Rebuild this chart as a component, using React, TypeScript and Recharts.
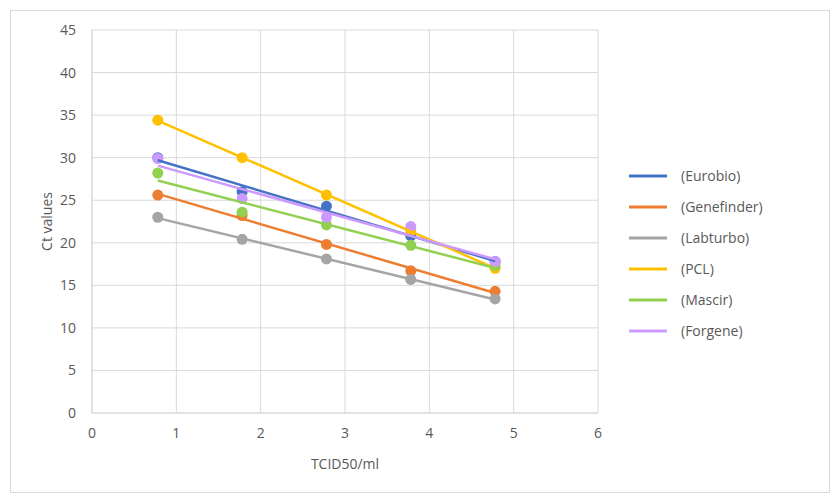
import React from 'react';
import { ScatterChart, Scatter, XAxis, YAxis, CartesianGrid, Label } from 'recharts';

const tcid = [0.78, 1.78, 2.78, 3.78, 4.78];
const eurobio = [30.0, 26.0, 24.3, 20.8, 17.8];
const genefinder = [25.6, 23.2, 19.8, 16.7, 14.3];
const labturbo = [23.0, 20.4, 18.1, 15.7, 13.4];
const pcl = [34.4, 30.0, 25.6, 21.4, 17.0];
const mascir = [28.2, 23.6, 22.1, 19.7, 17.3];
const forgene = [29.9, 25.2, 23.0, 21.9, 17.8];

const seriesNames = ['(Eurobio)', '(Genefinder)', '(Labturbo)', '(PCL)', '(Mascir)', '(Forgene)'];
const seriesValues = [eurobio, genefinder, labturbo, pcl, mascir, forgene];
const seriesColors = ['#4472C4', '#ED7D31', '#A5A5A5', '#FFC000', '#92D050', '#CC99FF'];

const xTicks = [0, 1, 2, 3, 4, 5, 6];
const yTicks = [0, 5, 10, 15, 20, 25, 30, 35, 40, 45];

const toPoints = (ys: number[]) => tcid.map((x, i) => ({ x, y: ys[i] }));

// Linear (least-squares) trendline, as in the source spreadsheet chart
const trendline = (ys: number[]) => {
  const n = tcid.length;
  const mx = tcid.reduce((a, b) => a + b, 0) / n;
  const my = ys.reduce((a, b) => a + b, 0) / n;
  let sxy = 0;
  let sxx = 0;
  tcid.forEach((x, i) => {
    sxy += (x - mx) * (ys[i] - my);
    sxx += (x - mx) * (x - mx);
  });
  const slope = sxy / sxx;
  const x0 = tcid[0];
  const x1 = tcid[n - 1];
  return [
    { x: x0, y: my + slope * (x0 - mx) },
    { x: x1, y: my + slope * (x1 - mx) },
  ];
};

const FONT = '"Open Sans", sans-serif';
const TEXT = '#595959';
const GRID = '#d9d9d9';

export default function App() {
  return (
    <div
      style={{
        position: 'relative',
        width: 840,
        height: 495,
        marginLeft: -8,
        marginTop: -8,
        fontFamily: FONT,
        background: '#fff',
        overflow: 'hidden',
      }}
    >
      <div
        style={{
          position: 'absolute',
          left: 7,
          top: 7,
          width: 840,
          height: 495,
          borderLeft: '1px solid #3f3f3f',
          borderTop: '1px solid #3f3f3f',
        }}
      />
      <div
        style={{
          position: 'absolute',
          left: 10,
          top: 10,
          width: 818,
          height: 481,
          border: '1px solid ' + GRID,
        }}
      />
      <div style={{ position: 'absolute', left: 0, top: 0 }}>
        <ScatterChart width={840} height={495} margin={{ top: 30, right: 242, left: 0, bottom: 0 }}>
          <CartesianGrid stroke={GRID} strokeWidth={1} />
          <XAxis
            type="number"
            dataKey="x"
            domain={[0, 6]}
            ticks={xTicks}
            height={82}
            tickLine={false}
            tickSize={0}
            tickMargin={15}
            axisLine={{ stroke: GRID }}
            tick={{ fill: TEXT, fontSize: 14, fontFamily: FONT }}
          >
            <Label
              value="TCID50/ml"
              position="insideBottom"
              offset={26}
              style={{ fill: TEXT, fontSize: 14, fontFamily: FONT }}
            />
          </XAxis>
          <YAxis
            type="number"
            dataKey="y"
            domain={[0, 45]}
            ticks={yTicks}
            width={92}
            tickLine={false}
            tickSize={0}
            tickMargin={16}
            axisLine={{ stroke: GRID }}
            tick={{ fill: TEXT, fontSize: 14, fontFamily: FONT }}
          >
            <Label
              value="Ct values"
              angle={-90}
              position="insideLeft"
              offset={47}
              style={{ fill: TEXT, fontSize: 14, fontFamily: FONT, textAnchor: 'middle' }}
            />
          </YAxis>
          {seriesValues.map((ys, i) => (
            <Scatter
              key={'pts' + i}
              name={seriesNames[i]}
              data={toPoints(ys)}
              fill={seriesColors[i]}
              isAnimationActive={false}
              shape={(p: any) => <circle cx={p.cx} cy={p.cy} r={5.5} fill={seriesColors[i]} />}
            />
          ))}
          {seriesValues.map((ys, i) => (
            <Scatter
              key={'trend' + i}
              name={seriesNames[i] + ' trend'}
              data={trendline(ys)}
              fill="none"
              isAnimationActive={false}
              line={{ stroke: seriesColors[i], strokeWidth: 2.5 }}
              shape={() => <g />}
            />
          ))}
        </ScatterChart>
      </div>
      <div style={{ position: 'absolute', left: 629, top: 160 }}>
        {seriesNames.map((name, i) => (
          <div
            key={name}
            style={{ height: 31, display: 'flex', alignItems: 'center', whiteSpace: 'nowrap' }}
          >
            <svg width={38} height={6} style={{ display: 'block' }}>
              <line x1={0} y1={3} x2={38} y2={3} stroke={seriesColors[i]} strokeWidth={3} />
            </svg>
            <span style={{ marginLeft: 14, fontSize: 14, color: TEXT, fontFamily: FONT }}>{name}</span>
          </div>
        ))}
      </div>
    </div>
  );
}
